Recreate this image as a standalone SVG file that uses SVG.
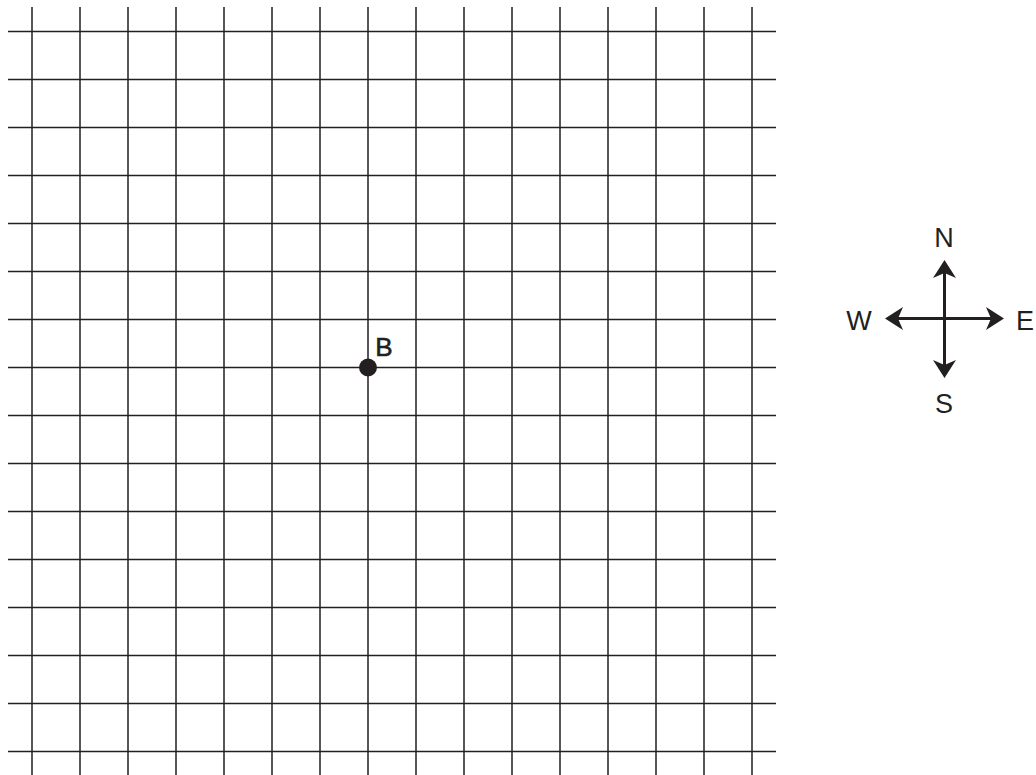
<svg xmlns="http://www.w3.org/2000/svg" width="1036" height="775" viewBox="0 0 1036 775">
<style>
.g{stroke:#231f20;stroke-width:1.5;fill:none}
.ax{stroke:#231f20;stroke-width:3;fill:none}
.t{font-family:"Liberation Sans",Arial,sans-serif;font-size:27px;fill:#231f20;text-anchor:middle}
</style>
<defs>
<path id="ah" d="M0,0 L-11.5,18 L0,13 L11.5,18 Z" fill="#231f20"/>
</defs>
<rect width="1036" height="775" fill="#fff"/>
<g id="grid">
<path class="g" d="M32,7V775M80,7V775M128,7V775M176,7V775M224,7V775M272,7V775M320,7V775M368,7V775M416,7V775M464,7V775M512,7V775M560,7V775M608,7V775M656,7V775M704,7V775M752,7V775"/>
<path class="g" d="M8,31.5H776M8,79.5H776M8,127.5H776M8,175.5H776M8,223.5H776M8,271.5H776M8,319.5H776M8,367.5H776M8,415.5H776M8,463.5H776M8,511.5H776M8,559.5H776M8,607.5H776M8,655.5H776M8,703.5H776M8,751.5H776"/>
</g>
<g id="pointB">
<circle cx="368" cy="367.5" r="9" fill="#231f20"/>
<text x="384" y="356" font-family="'Liberation Sans',sans-serif" font-size="26" fill="#231f20" stroke="#231f20" stroke-width="0.6" text-anchor="middle">B</text>
</g>
<g id="compass">
<path class="ax" d="M944.5,268V370M893,318.5H996"/>
<use href="#ah" transform="translate(944.5,260)"/>
<use href="#ah" transform="translate(944.5,378) rotate(180)"/>
<use href="#ah" transform="translate(885,318.5) rotate(-90)"/>
<use href="#ah" transform="translate(1004,318.5) rotate(90)"/>
<text class="t" x="944" y="247">N</text>
<text class="t" x="944" y="413">S</text>
<text class="t" x="859" y="330">W</text>
<text class="t" x="1025" y="330">E</text>
</g>
</svg>
